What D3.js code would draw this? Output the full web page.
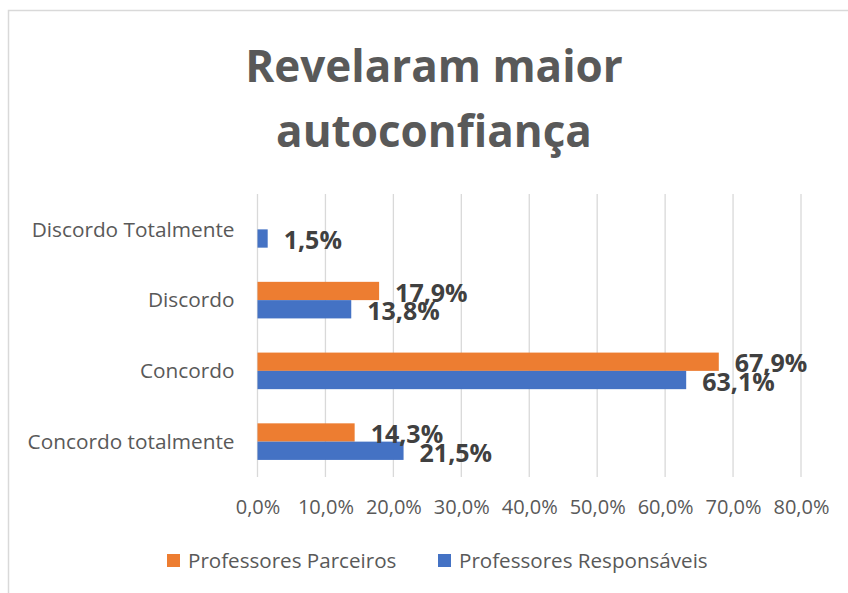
<!DOCTYPE html>
<html>
<head>
<meta charset="utf-8">
<script src="https://cdn.jsdelivr.net/npm/d3@7"></script>
<style>
  body { margin: 0; background: #fff; }
  svg text { font-family: "Open Sans", Lato, sans-serif; }
</style>
</head>
<body>
<div id="chart"></div>
<script>
// Chart data
var categories = ["Discordo Totalmente", "Discordo", "Concordo", "Concordo totalmente"];
var seriesNames = ["Professores Parceiros", "Professores Responsáveis"];
var parceiros = [null, 17.9, 67.9, 14.3];
var responsaveis = [1.5, 13.8, 63.1, 21.5];
var xTicks = [0, 10, 20, 30, 40, 50, 60, 70, 80];
var titleLines = ["Revelaram maior", "autoconfiança"];

var colors = ["#ED7D31", "#4472C4"];

var svgWidth = 848;
var svgHeight = 593;

var margin = { top: 194, right: 47, bottom: 116, left: 257.5 };
var width = svgWidth - margin.left - margin.right;
var height = svgHeight - margin.top - margin.bottom;

var svg = d3.select("#chart")
  .append("svg")
  .attr("width", svgWidth)
  .attr("height", svgHeight);

// chart area border
svg.append("rect")
  .attr("x", 8.5).attr("y", 10.5)
  .attr("width", 860).attr("height", 600)
  .attr("fill", "#fff")
  .attr("stroke", "#d9d9d9")
  .attr("stroke-width", 1.5);

// title
svg.append("text")
  .attr("text-anchor", "middle")
  .attr("fill", "#595959")
  .style("font-weight", "bold")
  .style("font-size", "44px")
  .selectAll("tspan")
  .data(titleLines)
  .enter()
  .append("tspan")
  .attr("x", 434)
  .attr("y", (d, i) => 82 + i * 65)
  .text(d => d);

var chartGroup = svg.append("g")
  .attr("transform", `translate(${margin.left}, ${margin.top})`);

var xScale = d3.scaleLinear()
  .domain([0, 80])
  .range([0, width]);

var yScale = d3.scaleBand()
  .domain(categories)
  .range([0, height])
  .paddingInner(0.483)
  .paddingOuter(0.2415);

var ySub = d3.scaleBand()
  .domain([0, 1])
  .range([0, yScale.bandwidth()]);

// gridlines
chartGroup.append("g")
  .selectAll("line")
  .data(xTicks)
  .enter()
  .append("line")
  .attr("x1", d => xScale(d))
  .attr("x2", d => xScale(d))
  .attr("y1", 0)
  .attr("y2", height)
  .attr("stroke", "#d9d9d9")
  .attr("stroke-width", 1.3);

// x axis labels
var bottomAxis = d3.axisBottom(xScale)
  .tickValues(xTicks)
  .tickSize(0)
  .tickPadding(23)
  .tickFormat(d => d.toFixed(1).replace(".", ",") + "%");

var xAxis = chartGroup.append("g")
  .attr("transform", `translate(0, ${height})`)
  .call(bottomAxis);
xAxis.select(".domain").remove();
xAxis.selectAll("text")
  .attr("fill", "#595959")
  .style("font-size", "20px");

// y axis labels
var leftAxis = d3.axisLeft(yScale).tickSize(0).tickPadding(23);
var yAxis = chartGroup.append("g").call(leftAxis);
yAxis.select(".domain").remove();
yAxis.selectAll("text")
  .attr("fill", "#595959")
  .attr("dy", "0.35em")
  .style("font-size", "20.8px");

// bars
var rows = [];
categories.forEach(function(c, i) {
  rows.push({ cat: c, s: 0, v: parceiros[i] });
  rows.push({ cat: c, s: 1, v: responsaveis[i] });
});
rows = rows.filter(d => d.v !== null);

chartGroup.selectAll(".bar")
  .data(rows)
  .enter()
  .append("rect")
  .attr("class", "bar")
  .attr("x", xScale(0))
  .attr("y", d => yScale(d.cat) + ySub(d.s))
  .attr("width", d => xScale(d.v) - xScale(0))
  .attr("height", ySub.bandwidth())
  .attr("fill", d => colors[d.s]);

// value labels
chartGroup.selectAll(".valueText")
  .data(rows)
  .enter()
  .append("text")
  .attr("class", "valueText")
  .attr("x", d => xScale(d.v) + 16)
  .attr("y", d => yScale(d.cat) + ySub(d.s) + ySub.bandwidth() / 2 + 2)
  .attr("dy", "0.35em")
  .attr("fill", "#404040")
  .style("font-weight", "bold")
  .style("font-size", "25px")
  .text(d => d.v.toFixed(1).replace(".", ",") + "%");

// legend
var legendX = [167, 438];
var legend = svg.append("g")
  .selectAll("g")
  .data(seriesNames)
  .enter()
  .append("g")
  .attr("transform", (d, i) => `translate(${legendX[i]}, 561)`);

legend.append("rect")
  .attr("x", 0).attr("y", -7)
  .attr("width", 13).attr("height", 13)
  .attr("fill", (d, i) => colors[i]);

legend.append("text")
  .attr("x", 21)
  .attr("dy", "0.35em")
  .attr("fill", "#595959")
  .style("font-size", "20.6px")
  .text(d => d);
</script>
</body>
</html>
